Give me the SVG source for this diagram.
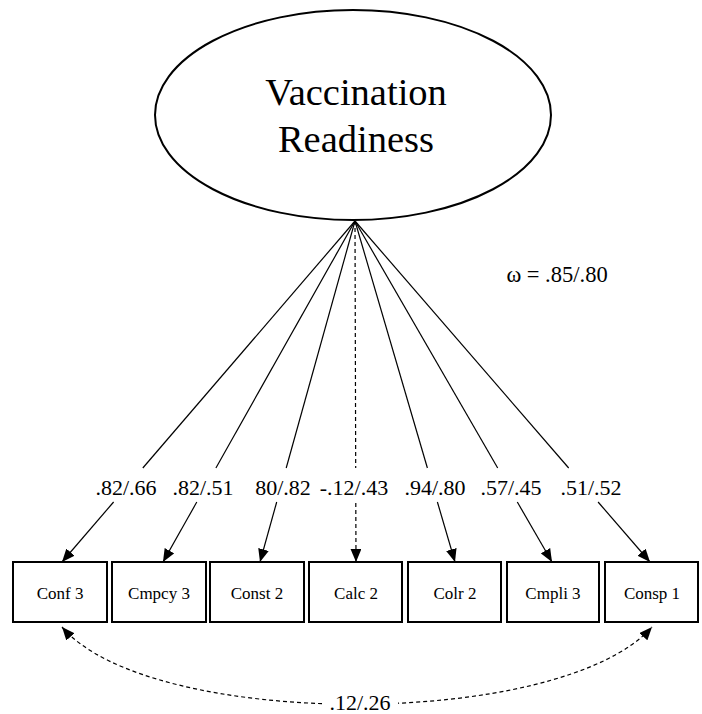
<svg xmlns="http://www.w3.org/2000/svg" width="702" height="714" viewBox="0 0 702 714">
<defs>
<style>
.ln{stroke:#000;stroke-width:1.2;fill:none}
.dash{stroke-dasharray:4 3}
.box{fill:#fff;stroke:#000;stroke-width:2}
.t{font-family:'Liberation Serif','Times New Roman',Times,'DejaVu Serif',serif;fill:#000;text-anchor:middle}
.lbl{font-size:22px}
.bt{font-size:17px}
.big{font-size:38.5px}
</style>
<marker id="ah" markerUnits="userSpaceOnUse" markerWidth="13" markerHeight="11" refX="12" refY="5" orient="auto-start-reverse" viewBox="0 0 12 10">
<path d="M0,0 L12,5 L0,10 z" fill="#000"/>
</marker>
</defs>
<rect width="702" height="714" fill="#fff"/>
<g id="connectors">
<path class="ln" d="M355,221 L142.8,468"/><path class="ln" d="M113.6,502 L62,562" marker-end="url(#ah)"/>
<path class="ln" d="M355,221 L215.9,468"/><path class="ln" d="M196.8,502 L163,562" marker-end="url(#ah)"/>
<path class="ln" d="M355,221 L286.2,468"/><path class="ln" d="M276.7,502 L260,562" marker-end="url(#ah)"/>
<path class="ln dash" d="M355,221 L355.7,468"/><path class="ln dash" d="M355.8,503 L356,562" marker-end="url(#ah)"/>
<path class="ln" d="M355,221 L427.4,468"/><path class="ln" d="M437.4,502 L455,562" marker-end="url(#ah)"/>
<path class="ln" d="M355,221 L497.7,468"/><path class="ln" d="M517.3,502 L552,562" marker-end="url(#ah)"/>
<path class="ln" d="M355,221 L568.7,468"/><path class="ln" d="M598.1,502 L650,562" marker-end="url(#ah)"/>
<path class="ln dash" d="M62,627 C150,730 560,730 652,627" marker-start="url(#ah)" marker-end="url(#ah)"/>
<rect x="322" y="690" width="76" height="24" fill="#fff"/>
</g>
<g id="labels">
<text class="t lbl" x="126" y="495">.82/.66</text>
<text class="t lbl" x="203" y="495">.82/.51</text>
<text class="t lbl" x="283" y="495">80/.82</text>
<text class="t lbl" x="354" y="495">-.12/.43</text>
<text class="t lbl" x="435" y="495">.94/.80</text>
<text class="t lbl" x="511" y="495">.57/.45</text>
<text class="t lbl" x="591" y="495">.51/.52</text>
<text class="t lbl" x="360" y="710">.12/.26</text>
<text class="t" style="font-size:22.5px" x="557" y="282">ω = .85/.80</text>
</g>
<g id="node-vr">
<ellipse cx="353" cy="115" rx="198" ry="105" fill="#fff" stroke="#000" stroke-width="2"/>
<text class="t big" x="356" y="105">Vaccination</text>
<text class="t big" x="356" y="152">Readiness</text>
</g>
<g id="node-conf3"><rect class="box" x="13" y="562" width="94" height="60"/><text class="t bt" x="60" y="599">Conf 3</text></g>
<g id="node-cmpcy3"><rect class="box" x="112" y="562" width="94" height="60"/><text class="t bt" x="159" y="599">Cmpcy 3</text></g>
<g id="node-const2"><rect class="box" x="210" y="562" width="94" height="60"/><text class="t bt" x="257" y="599">Const 2</text></g>
<g id="node-calc2"><rect class="box" x="309" y="562" width="93" height="60"/><text class="t bt" x="356" y="599">Calc 2</text></g>
<g id="node-colr2"><rect class="box" x="408" y="562" width="93" height="60"/><text class="t bt" x="455" y="599">Colr 2</text></g>
<g id="node-cmpli3"><rect class="box" x="507" y="562" width="92" height="60"/><text class="t bt" x="553" y="599">Cmpli 3</text></g>
<g id="node-consp1"><rect class="box" x="605" y="562" width="93" height="60"/><text class="t bt" x="652" y="599">Consp 1</text></g>
</svg>
